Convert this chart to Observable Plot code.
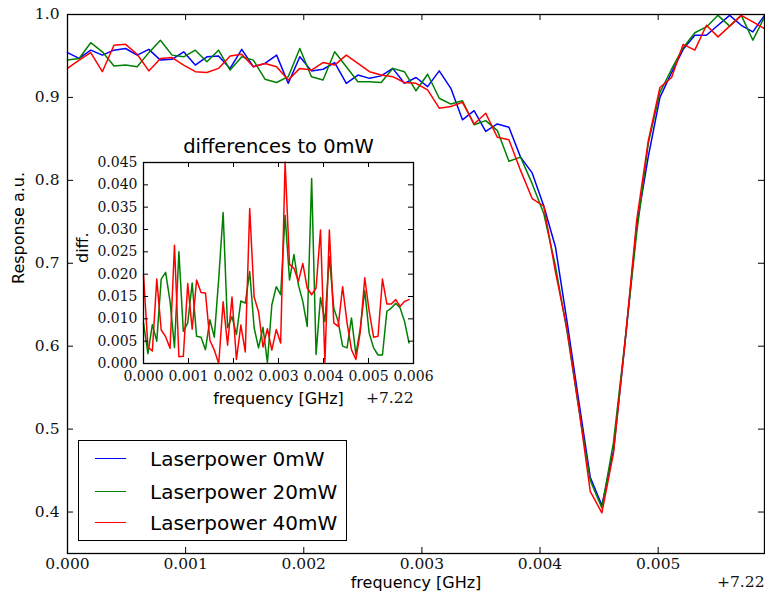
<!DOCTYPE html>
<html>
<head>
<meta charset="utf-8">
<script src="https://cdn.jsdelivr.net/npm/d3@7"></script>
<script src="https://cdn.jsdelivr.net/npm/@observablehq/plot@0.6"></script>
<style>
  body { margin: 0; background: #fff; }
  #wrap { position: relative; width: 765px; height: 598px; overflow: hidden; }
  #wrap svg { position: absolute; left: 0; top: 0; }
  #legend { position: absolute; left: 78px; top: 440px; width: 269px; height: 101px;
            border: 1px solid #000; background: #fff; box-sizing: border-box;
            font-family: "DejaVu Sans", sans-serif; font-size: 20px; color: #000; }
  .row { position: absolute; left: 0; right: 0; height: 24px; }
  .sw { position: absolute; left: 16px; top: 11px; width: 31px; height: 0; border-top: 1.5px solid; }
  .lab { position: absolute; left: 71px; top: 0; line-height: 24px; white-space: nowrap; }
</style>
</head>
<body>
<div id="wrap"></div>
<script>
// ---- data (frequency offset from 7.22 GHz, 61 samples from 0 to 0.0059) ----
const nSamples = 61;
const fMax = 0.0059;

const laser0mW = [
  0.954,0.947,0.957,0.951,0.957,0.959,0.951,0.958,0.945,0.946,
  0.955,0.939,0.949,0.950,0.935,0.958,0.937,0.941,0.951,0.917,
  0.949,0.932,0.934,0.942,0.917,0.927,0.923,0.926,0.935,0.917,
  0.924,0.913,0.932,0.911,0.873,0.884,0.859,0.868,0.864,0.828,
  0.809,0.769,0.720,0.630,0.535,0.442,0.408,0.474,0.605,0.745,
  0.829,0.900,0.930,0.958,0.975,0.975,0.987,0.999,0.987,0.979,
  0.999];

const laser20mW = [
  0.945,0.947,0.966,0.955,0.938,0.939,0.937,0.954,0.969,0.951,
  0.949,0.957,0.943,0.957,0.933,0.949,0.945,0.922,0.918,0.925,
  0.959,0.925,0.921,0.955,0.937,0.919,0.919,0.918,0.935,0.931,
  0.908,0.928,0.899,0.892,0.896,0.867,0.872,0.860,0.823,0.828,
  0.796,0.760,0.697,0.618,0.526,0.438,0.405,0.484,0.607,0.737,
  0.845,0.906,0.934,0.960,0.978,0.985,0.999,0.986,0.999,0.969,
  0.997];

const laser40mW = [
  0.935,0.945,0.954,0.931,0.963,0.964,0.952,0.932,0.947,0.948,
  0.939,0.931,0.930,0.935,0.950,0.952,0.937,0.941,0.937,0.921,
  0.935,0.933,0.942,0.939,0.951,0.941,0.931,0.927,0.925,0.918,
  0.917,0.909,0.887,0.889,0.894,0.868,0.881,0.852,0.849,0.812,
  0.778,0.769,0.690,0.621,0.527,0.425,0.399,0.471,0.606,0.752,
  0.848,0.912,0.924,0.964,0.957,0.987,0.973,0.986,0.999,0.991,
  0.983];

const diff20mW = [
  0.0091,0.0022,0.0087,0.0050,0.0189,0.0204,0.0139,0.0036,0.0250,0.0072,
  0.0091,0.0180,0.0061,0.0059,0.0031,0.0098,0.0059,0.0190,0.0338,0.0080,
  0.0105,0.0065,0.0140,0.0135,0.0206,0.0080,0.0035,0.0081,0.0002,0.0131,
  0.0172,0.0154,0.0332,0.0187,0.0244,0.0176,0.0139,0.0083,0.0414,0.0020,
  0.0148,0.0094,0.0239,0.0124,0.0094,0.0039,0.0035,0.0102,0.0020,0.0080,
  0.0163,0.0068,0.0035,0.0019,0.0019,0.0117,0.0124,0.0135,0.0124,0.0094,
  0.0046];

const diff40mW = [
  0.0198,0.0037,0.0028,0.0189,0.0075,0.0060,0.0034,0.0265,0.0015,0.0016,
  0.0179,0.0077,0.0187,0.0159,0.0158,0.0052,0.0030,0.0000,0.0138,0.0041,
  0.0149,0.0009,0.0086,0.0026,0.0347,0.0149,0.0116,0.0037,0.0078,0.0030,
  0.0076,0.0046,0.0451,0.0222,0.0213,0.0184,0.0224,0.0169,0.0154,0.0169,
  0.0299,0.0003,0.0299,0.0091,0.0083,0.0172,0.0091,0.0031,0.0009,0.0072,
  0.0192,0.0117,0.0059,0.0061,0.0189,0.0133,0.0133,0.0143,0.0128,0.0139,
  0.0143];

const mainXTicks = [0, 0.001, 0.002, 0.003, 0.004, 0.005];
const mainYTicks = [0.4, 0.5, 0.6, 0.7, 0.8, 0.9, 1.0];
const insetXTicks = [0, 0.001, 0.002, 0.003, 0.004, 0.005, 0.006];
const insetYTicks = [0, 0.005, 0.010, 0.015, 0.020, 0.025, 0.030, 0.035, 0.040, 0.045];
const seriesNames = ["Laserpower 0mW", "Laserpower 20mW", "Laserpower 40mW"];
const seriesColors = ["#0000ff", "#008000", "#ff0000"];
const offsetLabel = "+7.22";

// ---- build ----
const freq = d3.range(nSamples).map(i => i * fMax / (nSamples - 1));
const rows = vals => vals.map((v, i) => ({f: freq[i], v}));
const serifMain = {fontFamily: "DejaVu Serif", fontSize: 15.5, fill: "#111"};
const serifInset = {fontFamily: "DejaVu Serif", fontSize: 14, fill: "#111"};
const sans = {fontFamily: "DejaVu Sans", fill: "#000", lineAnchor: "middle"};
const baseStyle = {background: "transparent", fontFamily: "DejaVu Serif", fontSize: "15px", color: "#111", overflow: "visible"};

// main axes: frame 67..764 x 14..553
const W = 765, H = 598;
const mL = 67, mR = 1, mT = 14, mB = 45;
const iw = W - mL - mR, ih = H - mT - mB, tk = 6;

const main = Plot.plot({
  width: W, height: H, marginLeft: mL, marginRight: mR, marginTop: mT, marginBottom: mB,
  x: {domain: [0, fMax]}, y: {domain: [0.35, 1.0]},
  style: baseStyle,
  marks: [
    Plot.lineY(rows(laser0mW), {x: "f", y: "v", stroke: seriesColors[0], strokeWidth: 1.5}),
    Plot.lineY(rows(laser20mW), {x: "f", y: "v", stroke: seriesColors[1], strokeWidth: 1.5}),
    Plot.lineY(rows(laser40mW), {x: "f", y: "v", stroke: seriesColors[2], strokeWidth: 1.5}),
    Plot.frame({stroke: "#000", strokeWidth: 1.3}),
    Plot.tickX(mainXTicks, {x: d => d, insetTop: ih - tk, stroke: "#000"}),
    Plot.tickX(mainXTicks, {x: d => d, insetBottom: ih - tk, stroke: "#000"}),
    Plot.tickY(mainYTicks, {y: d => d, insetRight: iw - tk, stroke: "#000"}),
    Plot.tickY(mainYTicks, {y: d => d, insetLeft: iw - tk, stroke: "#000"}),
    Plot.axisX(mainXTicks, {tickSize: 0, tickPadding: 4, tickFormat: d3.format(".3f"), label: null, ...serifMain}),
    Plot.axisY(mainYTicks, {tickSize: 0, tickPadding: 8, tickFormat: d3.format(".1f"), label: null, ...serifMain}),
    Plot.text(["frequency [GHz]"], {frameAnchor: "bottom", dy: 29, fontSize: 16, ...sans}),
    Plot.text([offsetLabel], {frameAnchor: "bottom-right", textAnchor: "end", lineAnchor: "middle", dy: 29, ...serifMain}),
    Plot.text(["Response a.u."], {frameAnchor: "left", rotate: -90, dx: -49, fontSize: 16, ...sans})
  ]
});

// inset axes: frame 143..413 x 162..363
const imL = 143, imR = 352, imT = 162, imB = 235;
const iiw = W - imL - imR, iih = H - imT - imB, itk = 5;

const inset = Plot.plot({
  width: W, height: H, marginLeft: imL, marginRight: imR, marginTop: imT, marginBottom: imB,
  x: {domain: [0, 0.006]}, y: {domain: [0, 0.045]},
  style: baseStyle,
  marks: [
    Plot.frame({fill: "#fff"}),
    Plot.lineY(rows(diff20mW), {x: "f", y: "v", stroke: seriesColors[1], strokeWidth: 1.5}),
    Plot.lineY(rows(diff40mW), {x: "f", y: "v", stroke: seriesColors[2], strokeWidth: 1.5}),
    Plot.frame({stroke: "#000", strokeWidth: 1.3}),
    Plot.tickX(insetXTicks, {x: d => d, insetTop: iih - itk, stroke: "#000"}),
    Plot.tickX(insetXTicks, {x: d => d, insetBottom: iih - itk, stroke: "#000"}),
    Plot.tickY(insetYTicks, {y: d => d, insetRight: iiw - itk, stroke: "#000"}),
    Plot.tickY(insetYTicks, {y: d => d, insetLeft: iiw - itk, stroke: "#000"}),
    Plot.axisX(insetXTicks, {tickSize: 0, tickPadding: 8, tickFormat: d3.format(".3f"), label: null, ...serifInset}),
    Plot.axisY(insetYTicks, {tickSize: 0, tickPadding: 6, tickFormat: d3.format(".3f"), label: null, ...serifInset}),
    Plot.text(["differences to 0mW"], {frameAnchor: "top", dy: -16, fontSize: 19.5, ...sans}),
    Plot.text(["frequency [GHz]"], {frameAnchor: "bottom", dy: 35, fontSize: 16, ...sans}),
    Plot.text([offsetLabel], {frameAnchor: "bottom-right", textAnchor: "end", lineAnchor: "middle", dy: 35, ...serifMain}),
    Plot.text(["diff."], {frameAnchor: "left", rotate: -90, dx: -61, fontSize: 16, ...sans})
  ]
});

const wrap = document.getElementById("wrap");
wrap.appendChild(main);
wrap.appendChild(inset);

// legend
const legend = document.createElement("div");
legend.id = "legend";
const centers = [18, 51, 82];
seriesNames.forEach((name, i) => {
  const row = document.createElement("div");
  row.className = "row";
  row.style.top = (centers[i] - 12) + "px";
  const sw = document.createElement("div");
  sw.className = "sw";
  sw.style.borderTopColor = seriesColors[i];
  const lab = document.createElement("div");
  lab.className = "lab";
  lab.textContent = name;
  row.appendChild(sw);
  row.appendChild(lab);
  legend.appendChild(row);
});
wrap.appendChild(legend);
</script>
</body>
</html>
